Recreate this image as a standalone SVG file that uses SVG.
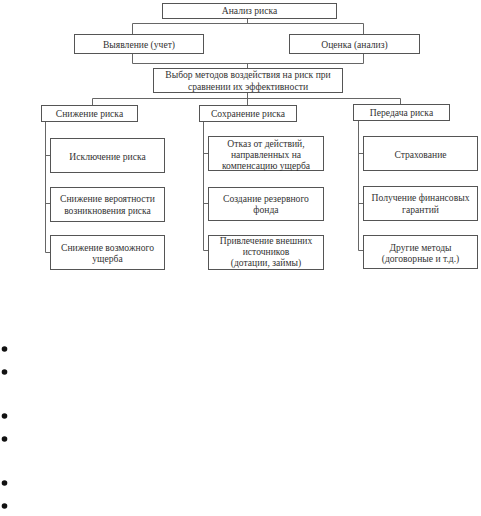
<svg xmlns="http://www.w3.org/2000/svg" width="481" height="516" viewBox="0 0 481 516">
<style>
rect{fill:#fff;stroke:#555;stroke-width:1}
text{font-family:'Liberation Serif','DejaVu Serif',serif;font-size:9.6px;fill:#333;text-anchor:middle}
.c{fill:none;stroke:#666;stroke-width:1}
</style>
<rect x="0" y="0" width="481" height="516" style="stroke:none"/>
<g id="connectors">
<path class="c" d="M247.5 18V23.5M132.5 23.5H363.5M132.5 23.5V34M363.5 23.5V34"/>
<path class="c" d="M132.5 53V63.5H363.5V53M247.5 63.5V68"/>
<path class="c" d="M247.5 92V98.5M92.5 98.5H400.5M92.5 98.5V105M247.5 98.5V105M400.5 98.5V104"/>
<path class="c" d="M45.5 121V252.5M45.5 155.5H50M45.5 203.5H50M45.5 252.5H50"/>
<path class="c" d="M203.5 121V250.5M203.5 153.5H208M203.5 203.5H208M203.5 250.5H208"/>
<path class="c" d="M358.5 120V250.5M358.5 153.5H363M358.5 203.5H363M358.5 250.5H363"/>
</g>
<g id="n-analiz"><rect x="162.5" y="3.5" width="174" height="15"/><text x="249.5" y="14">Анализ риска</text></g>
<g id="n-vyyavlenie"><rect x="74.5" y="34.5" width="129" height="19"/><text x="139" y="47.5">Выявление (учет)</text></g>
<g id="n-ocenka"><rect x="289.5" y="34.5" width="130" height="19"/><text x="354.5" y="47.5">Оценка (анализ)</text></g>
<g id="n-vybor"><rect x="153.5" y="68.5" width="189" height="24"/><text x="248" y="77.5">Выбор методов воздействия на риск при</text><text x="248" y="89.5">сравнении их эффективности</text></g>
<g id="n-snizhenie"><rect x="41.5" y="105.5" width="96" height="16"/><text x="89.5" y="116.5">Снижение риска</text></g>
<g id="n-sohranenie"><rect x="199.5" y="105.5" width="97" height="16"/><text x="248" y="116.5">Сохранение риска</text></g>
<g id="n-peredacha"><rect x="353.5" y="104.5" width="96" height="16"/><text x="401.5" y="115.5">Передача риска</text></g>
<g id="n-isklyuchenie"><rect x="50.5" y="138.5" width="114" height="34"/><text x="107.5" y="159.5">Исключение риска</text></g>
<g id="n-snizh-ver"><rect x="50.5" y="187.5" width="114" height="34"/><text x="107.5" y="201.5">Снижение вероятности</text><text x="107.5" y="213.5">возникновения риска</text></g>
<g id="n-snizh-voz"><rect x="50.5" y="235.5" width="114" height="34"/><text x="107.5" y="250.5">Снижение возможного</text><text x="107.5" y="261.5">ущерба</text></g>
<g id="n-otkaz"><rect x="208.5" y="136.5" width="115" height="34"/><text x="266" y="146.5">Отказ от действий,</text><text x="266" y="157.5">направленных на</text><text x="266" y="168.5">компенсацию ущерба</text></g>
<g id="n-sozdanie"><rect x="208.5" y="187.5" width="115" height="33"/><text x="266" y="201.5">Создание резервного</text><text x="266" y="212.5">фонда</text></g>
<g id="n-privlechenie"><rect x="208.5" y="235.5" width="115" height="34"/><text x="266" y="243.5">Привлечение внешних</text><text x="266" y="254.5">источников</text><text x="266" y="265.5">(дотации, займы)</text></g>
<g id="n-strahovanie"><rect x="363.5" y="136.5" width="114" height="34"/><text x="420.5" y="157.5">Страхование</text></g>
<g id="n-poluchenie"><rect x="363.5" y="186.5" width="114" height="34"/><text x="420.5" y="200.5">Получение финансовых</text><text x="420.5" y="212.5">гарантий</text></g>
<g id="n-drugie"><rect x="363.5" y="235.5" width="114" height="33"/><text x="420.5" y="250.5">Другие методы</text><text x="420.5" y="261.5">(договорные и т.д.)</text></g>
<g id="bullets" fill="#111">
<circle cx="4.5" cy="349" r="2.8"/><circle cx="4.5" cy="372" r="2.8"/>
<circle cx="4.5" cy="416" r="2.8"/><circle cx="4.5" cy="439" r="2.8"/>
<circle cx="4.5" cy="483" r="2.8"/><circle cx="4.5" cy="506" r="2.8"/>
</g>
</svg>
